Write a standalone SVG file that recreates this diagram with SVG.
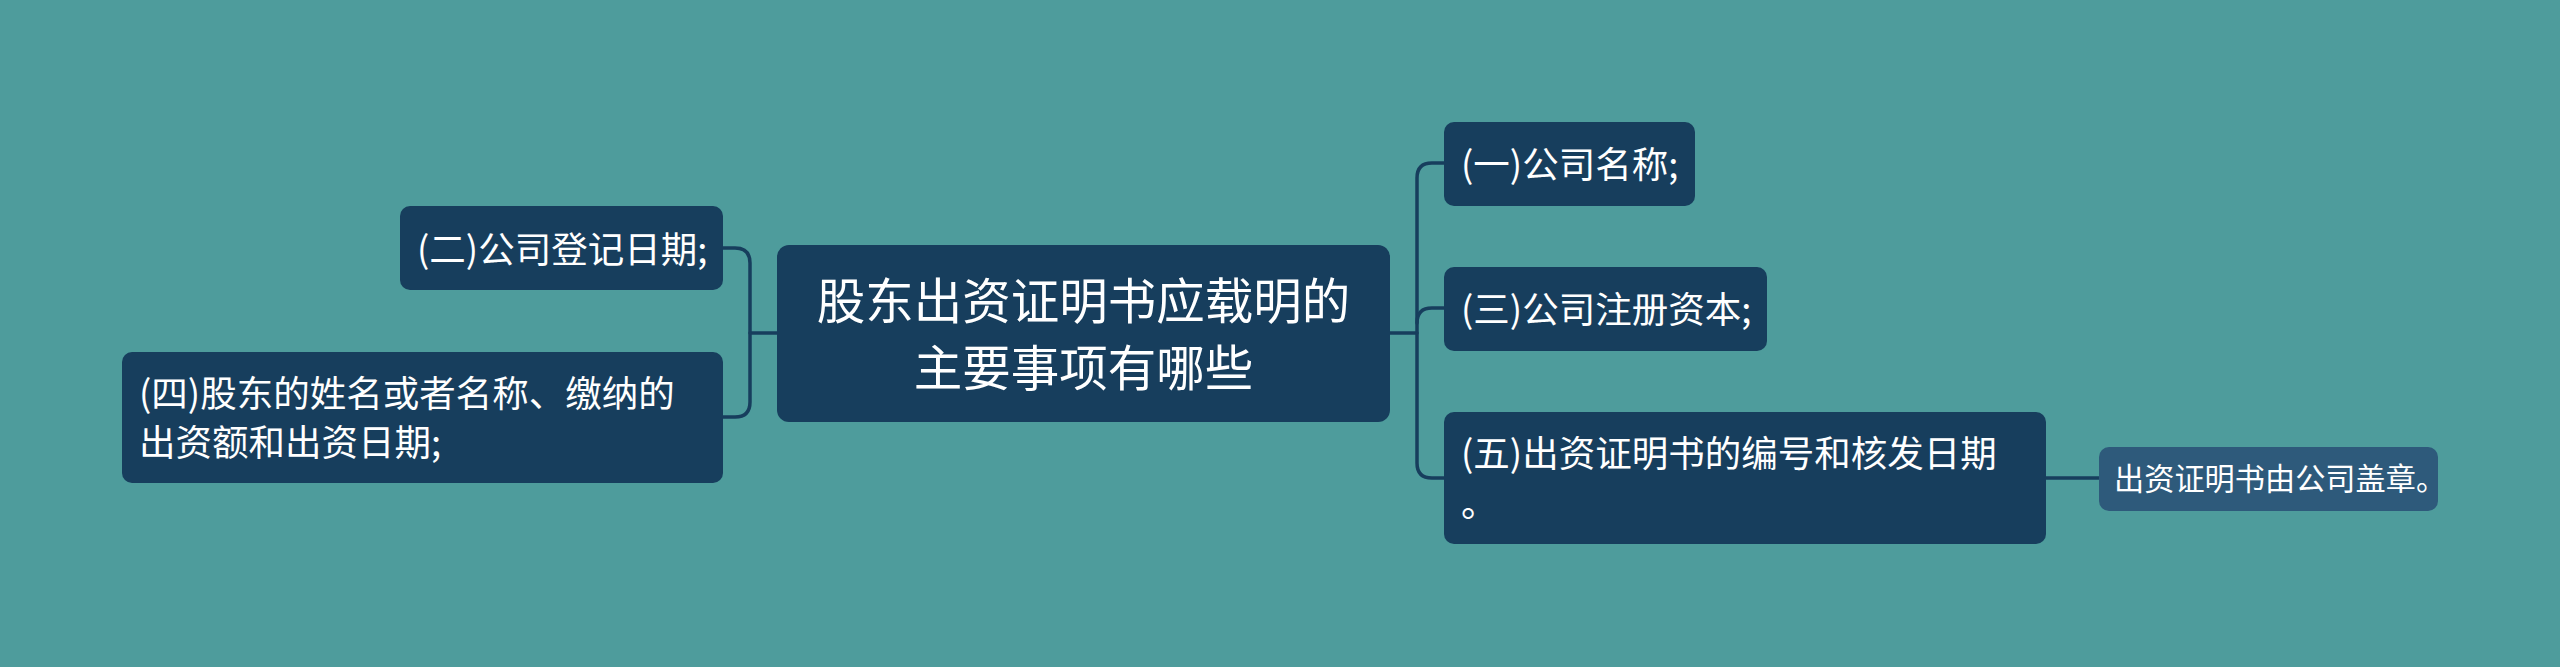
<svg xmlns="http://www.w3.org/2000/svg" width="2560" height="667" viewBox="0 0 2560 667">
<defs>
<style>
.bg{fill:#4E9C9C}
.node{fill:#173E5D}
.child{fill:#2E5A7B}
.t{fill:#FFFFFF;font-family:"Noto Sans CJK SC","Noto Sans",sans-serif}
.t36{font-size:36.5px}
.t48{font-size:48.5px}
.t30{font-size:30.2px}
.conn{fill:none;stroke:#173E5D;stroke-width:3.5;stroke-linecap:round;stroke-linejoin:round}
</style>
</defs>
<rect class="bg" x="0" y="0" width="2560" height="667"/>
<g id="connectors">
<path class="conn" d="M777,333 H750"/>
<path class="conn" d="M723,248 H735 Q750,248 750,263 V402 Q750,417 735,417 H723"/>
<path class="conn" d="M1390,333 H1417"/>
<path class="conn" d="M1444,163 H1432 Q1417,163 1417,178 V463 Q1417,478 1432,478 H1444"/>
<path class="conn" d="M1417,323 Q1417,308 1432,308 H1444"/>
<path class="conn" d="M2046,478 H2099"/>
</g>
<g id="root">
<rect class="node" x="777" y="245" width="613" height="177" rx="12"/>
<text class="t t48" x="1083.5" y="319" text-anchor="middle">股东出资证明书应载明的</text>
<text class="t t48" x="1083.5" y="386" text-anchor="middle">主要事项有哪些</text>
</g>
<g id="n2">
<rect class="node" x="400" y="206" width="323" height="84" rx="10"/>
<text class="t t36" x="417" y="263">(二)公司登记日期;</text>
</g>
<g id="n4">
<rect class="node" x="122" y="352" width="601" height="131" rx="10"/>
<text class="t t36" x="139" y="407">(四)股东的姓名或者名称、缴纳的</text>
<text class="t t36" x="139" y="456">出资额和出资日期;</text>
</g>
<g id="n1">
<rect class="node" x="1444" y="122" width="251" height="84" rx="10"/>
<text class="t t36" x="1461" y="178">(一)公司名称;</text>
</g>
<g id="n3">
<rect class="node" x="1444" y="267" width="323" height="84" rx="10"/>
<text class="t t36" x="1461" y="323">(三)公司注册资本;</text>
</g>
<g id="n5">
<rect class="node" x="1444" y="412" width="602" height="132" rx="10"/>
<text class="t t36" x="1461" y="467">(五)出资证明书的编号和核发日期</text>
<text class="t t36" x="1461" y="517">。</text>
</g>
<g id="n5a">
<rect class="child" x="2099" y="447" width="339" height="64" rx="10"/>
<text class="t t30" x="2114" y="490">出资证明书由公司盖章。</text>
</g>
</svg>
